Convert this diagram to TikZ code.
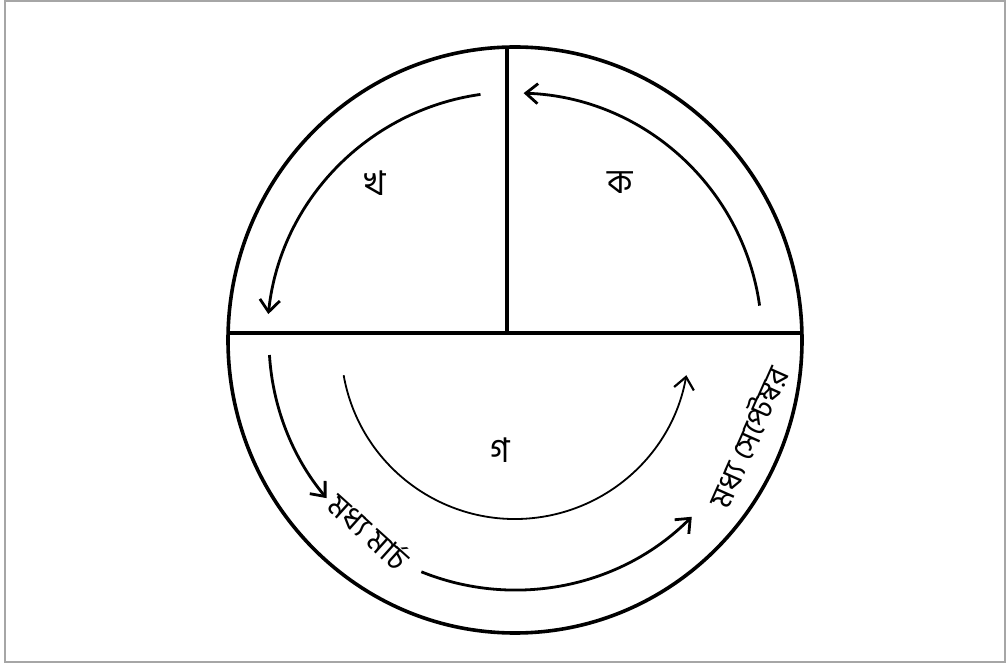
\documentclass[tikz,border=0pt]{standalone}
\usepackage{fontspec}
\newfontfamily\bn[Script=Bengali]{Hind Siliguri}
\usetikzlibrary{arrows.meta,calc}
\begin{document}
\begin{tikzpicture}[x=0.5pt,y=0.5pt,
  outer/.style={line width=1.8pt},
  flow/.style={line width=1.4pt,-{Straight Barb[length=6pt,width=10pt,line width=1.4pt]}},
  thinflow/.style={line width=0.9pt,-{Straight Barb[length=6pt,width=10pt,line width=1.1pt]}},
  lbl/.style={font=\bn\fontsize{17}{20}\selectfont,inner sep=0pt},
  arclbl/.style={font=\bn\fontsize{15.5}{18}\selectfont,inner sep=0pt}]
\useasboundingbox (0,0) rectangle (1008,665);
\draw[gray!70,line width=1pt] (5,3) rectangle (1005,664);
\coordinate (c) at (515,325);
\coordinate (ci) at (515,320);
% outer circle and dividers
\draw[outer] (c) ellipse [x radius=287, y radius=293];
\coordinate (L) at (228,332);
\coordinate (R) at (802,332);
\coordinate (T) at (507,618);
\coordinate (M) at (507,332);
\draw[outer] (L) -- (R);
\draw[outer] (T) -- (M);
% arcs
\draw[flow] ($(c)+(8:247)$) arc[start angle=8, end angle=88, radius=247];
\draw[flow] ($(c)+(98:248)$) arc[start angle=98, end angle=174, radius=248];
\draw[flow] ($(c)+(183.5:246)$) arc[start angle=183.5, end angle=220, radius=246];
\draw[flow] ($(c)+(248:250)$) arc[start angle=248, end angle=315, radius=250];
\draw[thinflow] ($(ci)+(190:174)$) arc[start angle=190, end angle=350, radius=174];
% labels
\node[lbl] (kha) at (375,482) {খ};
\node[lbl] (ka) at (620,482) {ক};
\node[lbl] (ga) at (500,215) {গ};
\node[arclbl,rotate=-42] (march) at (370,134) {মধ্য মার্চ};
\node[arclbl,rotate=66] (sept) at (748,228) {মধ্য সেপ্টেম্বর};
\end{tikzpicture}
\end{document}
